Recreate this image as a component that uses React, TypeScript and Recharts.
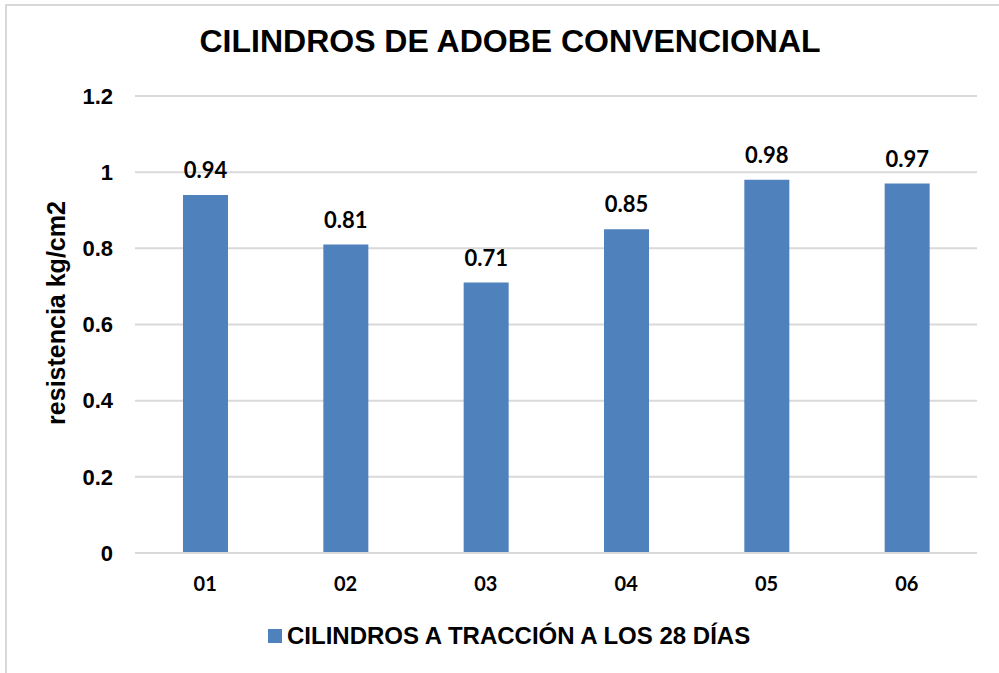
import React from "react";
import { BarChart, Bar, XAxis, YAxis, CartesianGrid, LabelList, Legend } from "recharts";

const categories = ["01", "02", "03", "04", "05", "06"];
const values = [0.94, 0.81, 0.71, 0.85, 0.98, 0.97];
const yTicks = [0, 0.2, 0.4, 0.6, 0.8, 1, 1.2];
const seriesName = "CILINDROS A TRACCIÓN A LOS 28 DÍAS";
const title = "CILINDROS DE ADOBE CONVENCIONAL";
const yLabel = "resistencia kg/cm2";

const data = categories.map((c, i) => ({ name: c, value: values[i] }));

const BLUE = "#4f81bd";
const GRID = "#d9d9d9";
const ARIAL = '"Liberation Sans", Arial, sans-serif';
const CALIBRI = 'Lato, "Open Sans", sans-serif';

const LegendContent = () => (
  <div style={{ display: "flex", alignItems: "center", fontFamily: ARIAL, fontWeight: 700, fontSize: 24, color: "#000" }}>
    <span style={{ display: "inline-block", width: 14, height: 14, background: BLUE, marginRight: 5 }} />
    <span>{seriesName}</span>
  </div>
);

export default function App() {
  return (
    <div style={{ position: "absolute", left: 0, top: 0, width: 999, height: 673, background: "#fff", overflow: "hidden" }}>
      <div style={{ position: "absolute", left: 5, top: 4, width: 1010, height: 700, border: `2px solid ${GRID}`, boxSizing: "border-box" }} />
      <svg style={{ position: "absolute", left: 0, top: 0 }} width={999} height={80}>
        <text x={510} y={52} textAnchor="middle" fontFamily={ARIAL} fontWeight={700} fontSize={32} fill="#000">
          {title}
        </text>
      </svg>
      <div style={{ position: "absolute", left: 0, top: 0 }}>
        <BarChart width={999} height={673} data={data} margin={{ top: 96, right: 22, bottom: 80, left: 60 }} barSize={45}>
          <CartesianGrid vertical={false} stroke={GRID} strokeWidth={2} />
          <XAxis
            dataKey="name"
            height={40}
            axisLine={{ stroke: GRID, strokeWidth: 2 }}
            tickLine={false}
            tickSize={0}
            tickMargin={24}
            tick={{ fontFamily: CALIBRI, fontWeight: 700, fontSize: 20, fill: "#000" }}
          />
          <YAxis
            width={75}
            domain={[0, 1.2]}
            ticks={yTicks}
            axisLine={false}
            tickLine={false}
            tickSize={0}
            tickMargin={22}
            tick={{ fontFamily: ARIAL, fontWeight: 700, fontSize: 22, fill: "#000" }}
            label={{
              content: () => (
                <text
                  x={56}
                  y={313}
                  transform="rotate(-90 56 313)"
                  textAnchor="middle"
                  dominantBaseline="central"
                  fontFamily={ARIAL}
                  fontWeight={700}
                  fontSize={25}
                  fill="#000"
                >
                  {yLabel}
                </text>
              ),
            }}
          />
          <Legend
            layout="horizontal"
            verticalAlign="middle"
            align="center"
            wrapperStyle={{ top: 622, left: 268, width: 600 }}
            content={LegendContent}
          />
          <Bar dataKey="value" name={seriesName} fill={BLUE} isAnimationActive={false}>
            <LabelList
              dataKey="value"
              position="top"
              offset={17}
              style={{ fontFamily: CALIBRI, fontWeight: 700, fontSize: 22, fill: "#000" }}
            />
          </Bar>
        </BarChart>
      </div>
    </div>
  );
}
